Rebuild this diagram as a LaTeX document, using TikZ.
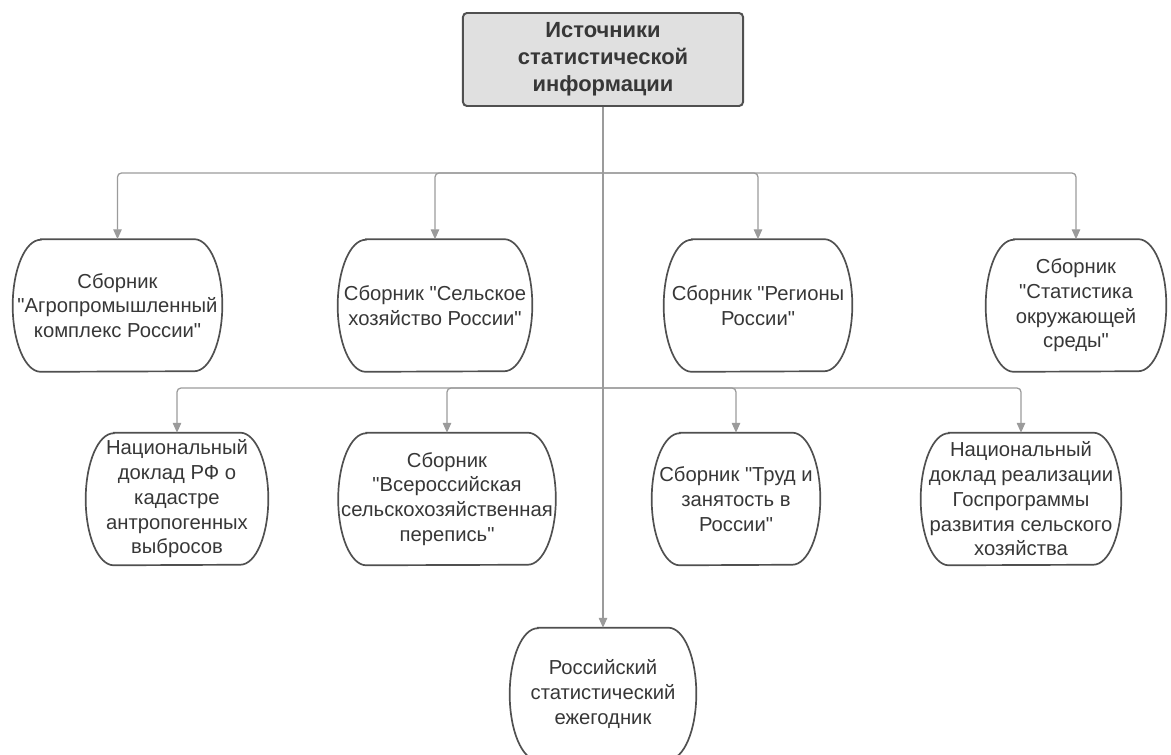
\documentclass[tikz,border=0pt]{standalone}
\usepackage{fontspec}
\setmainfont{Liberation Sans}[Ligatures=TeXOff]
\usetikzlibrary{arrows.meta,calc,positioning}

\definecolor{txtgray}{RGB}{55,55,55}
\definecolor{boxgray}{RGB}{80,80,80}
\definecolor{linegray}{RGB}{155,155,155}
\definecolor{headfill}{RGB}{224,224,224}

\tikzset{
  term/.style={minimum height=3.3cm, inner sep=0pt, align=center, text=txtgray,
    font=\fontsize{14.4}{17.6}\selectfont},
  termline/.style={draw=boxgray, line width=1.2pt},
  conn/.style={draw=linegray, line width=0.9pt, rounded corners=0.1cm,
    -{Triangle[width=6pt,length=7pt]}},
  headbox/.style={draw=boxgray, fill=headfill, line width=1.4pt, rounded corners=0.1cm,
    minimum width=7cm, minimum height=2.325cm, align=center, text=txtgray,
    font=\fontsize{15.6}{19.2}\selectfont\bfseries}
}

\begin{document}
\begin{tikzpicture}[x=0.025cm,y=0.025cm]
       \useasboundingbox (0,0) rectangle (1171,-755);
       \node[headbox] (src) at (603,-59.5) {Источники\\статистической\\информации};
       \node[term,minimum width=5.225cm] (agro) at (117.5,-305.5) {Сборник\\"Агропромышленный\\комплекс России"};
       \node[term,minimum width=4.85cm] (selsk) at (435,-305.5) {Сборник "Сельское\\хозяйство России"};
       \node[term,minimum width=4.7cm] (reg) at (758,-305.5) {Сборник "Регионы\\России"};
       \node[term,minimum width=4.5cm] (okr) at (1076,-305.5) {Сборник\\"Статистика\\окружающей\\среды"};
       \node[term,minimum width=4.55cm] (kad) at (177,-499) {Национальный\\доклад РФ о\\кадастре\\антропогенных\\выбросов};
       \node[term,minimum width=5.425cm] (perep) at (447,-499) {Сборник\\"Всероссийская\\сельскохозяйственная\\перепись"};
       \node[term,minimum width=4.2cm] (trud) at (736,-499) {Сборник "Труд и\\занятость в\\России"};
       \node[term,minimum width=5cm] (gosp) at (1021,-499) {Национальный\\доклад реализации\\Госпрограммы\\развития сельского\\хозяйства};
       \node[term,minimum width=4.65cm] (ezheg) at (603,-694) {Российский\\статистический\\ежегодник};
       \foreach \n in {agro,selsk,reg,okr,kad,perep,trud,gosp,ezheg}
         \draw[termline] ([xshift=0.7cm]\n.north west) -- ([xshift=-0.7cm]\n.north east)
           arc[start angle=90,end angle=-90,x radius=0.7cm,y radius=1.65cm]
           -- ([xshift=0.7cm]\n.south west)
           arc[start angle=270,end angle=90,x radius=0.7cm,y radius=1.65cm] -- cycle;
       \coordinate (bus1) at (603,-173);
       \coordinate (bus2) at (603,-388);
       \draw[conn] (src.south) -- (ezheg.north);
       \foreach \n in {agro,selsk,reg,okr}
         \draw[conn] (bus1) -| (\n.north);
       \foreach \n in {kad,perep,trud,gosp}
         \draw[conn] (bus2) -| (\n.north);
\end{tikzpicture}
\end{document}
